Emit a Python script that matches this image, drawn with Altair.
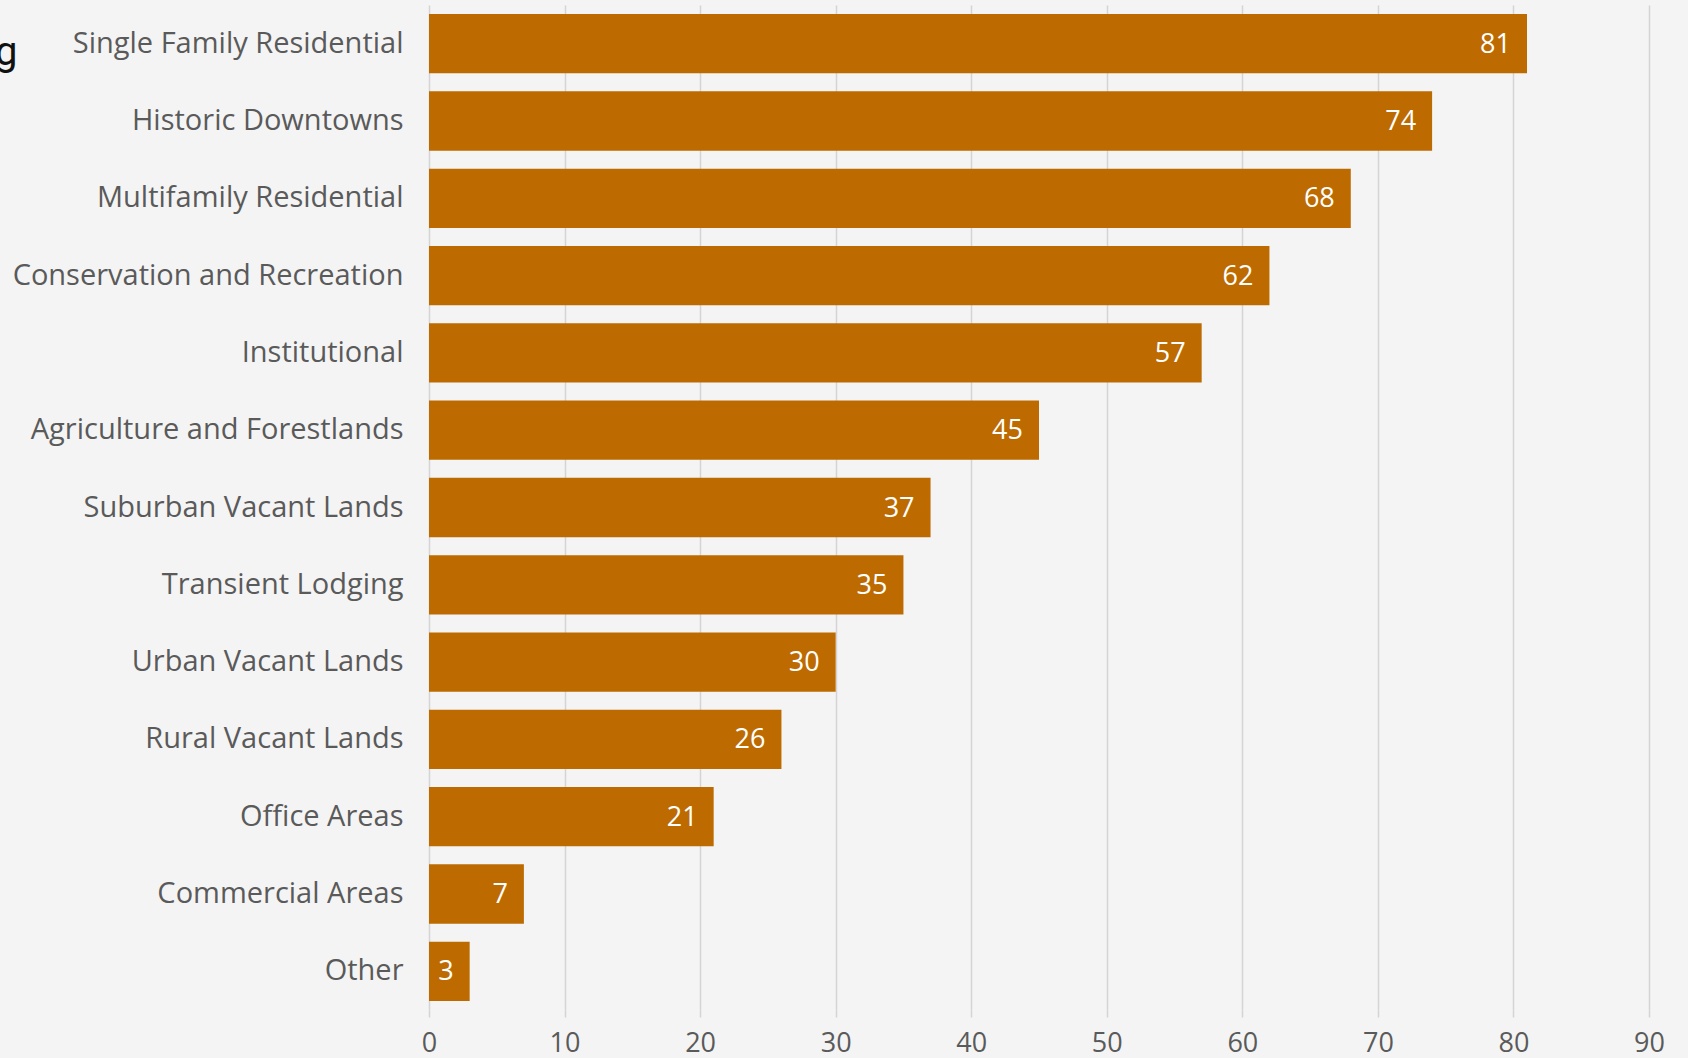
import altair as alt
import pandas as pd

categories = [
    "Single Family Residential", "Historic Downtowns", "Multifamily Residential",
    "Conservation and Recreation", "Institutional", "Agriculture and Forestlands",
    "Suburban Vacant Lands", "Transient Lodging", "Urban Vacant Lands",
    "Rural Vacant Lands", "Office Areas", "Commercial Areas", "Other",
]
values = [81, 74, 68, 62, 57, 45, 37, 35, 30, 26, 21, 7, 3]
x_ticks = [0, 10, 20, 30, 40, 50, 60, 70, 80, 90]

df = pd.DataFrame({"category": categories, "value": values})

FONT = "Open Sans"
BAR = "#BD6B00"

y_enc = alt.Y("category:N", sort=categories, title=None,
              scale=alt.Scale(paddingInner=0.233, paddingOuter=0.117),
              axis=alt.Axis(domain=False, ticks=False, labelFontSize=29,
                            labelFont=FONT, labelColor="#5a5a5a", labelPadding=26,
                            labelLimit=425))
x_enc = alt.X("value:Q", title=None,
              scale=alt.Scale(domain=[0, 90], nice=False),
              axis=alt.Axis(values=x_ticks, domain=False, grid=True, gridColor="#d4d4d4",
                            gridWidth=1.5, tickColor="#d4d4d4", tickSize=7, tickWidth=1.5,
                            labelFontSize=27, labelFont=FONT, labelColor="#5a5a5a",
                            labelFlush=False, labelPadding=13))

bars = alt.Chart(df).mark_bar(color=BAR).encode(x=x_enc, y=y_enc)

labels = alt.Chart(df).mark_text(align="right", baseline="middle", dx=-16, dy=1,
                                 color="white", fontSize=27, font=FONT).encode(
    x="value:Q", y=alt.Y("category:N", sort=categories), text="value:Q")

title_frag = alt.Chart(pd.DataFrame({"t": ["g"]})).mark_text(
    align="left", baseline="middle", fontSize=40, font="Roboto", color="#111111").encode(
    x=alt.value(-434), y=alt.value(48), text="t:N")

chart = alt.layer(bars, labels, title_frag).properties(
    width=1220, height=1005,
    background="#f4f4f4",
    padding={"left": 429, "top": 5, "right": 39, "bottom": 48},
    autosize=alt.AutoSizeParams(type="none"),
).configure_view(stroke=None)

chart.save("out.html", embed_options={"renderer": "svg", "actions": False})
